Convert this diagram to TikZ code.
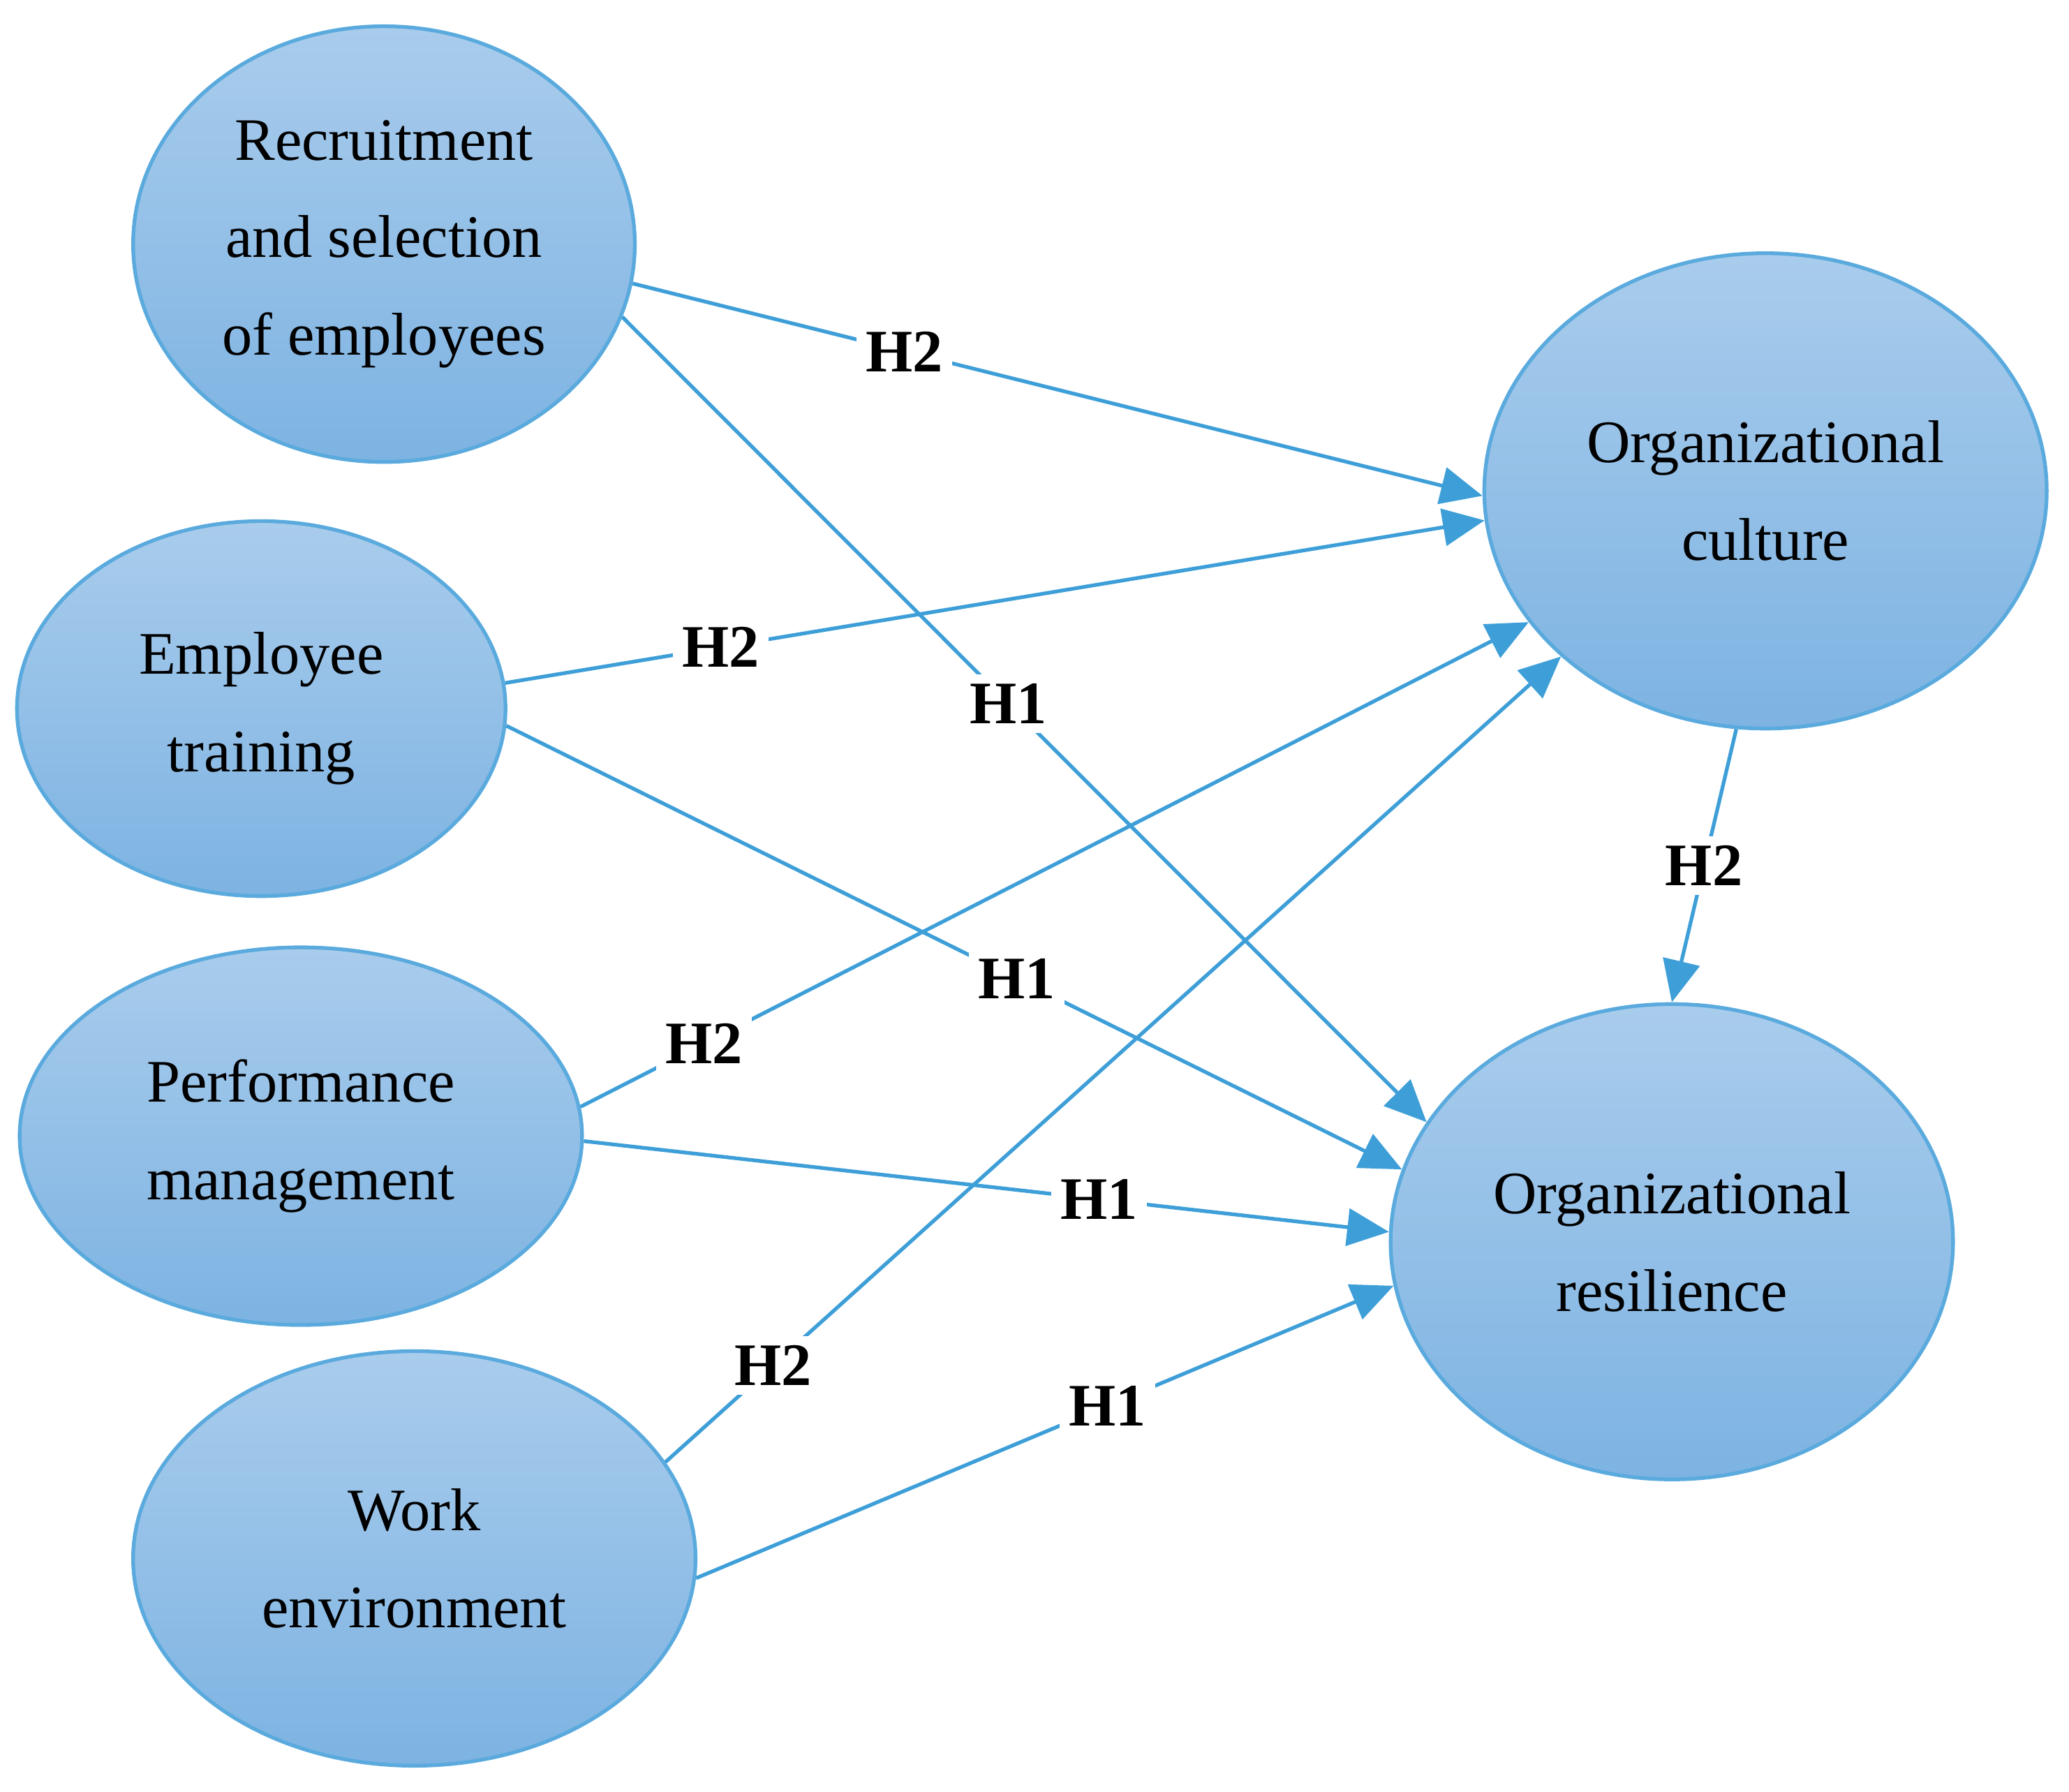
\documentclass[tikz,border=0pt]{standalone}
\usepackage{fontspec}
\setmainfont{Liberation Serif}
\usetikzlibrary{shapes.geometric,arrows.meta}
\definecolor{edgeblue}{HTML}{3E9FD8}
\definecolor{topb}{HTML}{A9CCEC}
\definecolor{botb}{HTML}{7DB3E2}
\definecolor{rimb}{HTML}{5AAADE}
\tikzset{
 ell/.style={ellipse, draw=rimb, line width=0.8pt, top color=topb, bottom color=botb, inner sep=0pt, align=center, font=\fontsize{13}{21}\selectfont},
 conn/.style={draw=edgeblue, line width=0.8pt, -{Triangle[length=9pt,width=8pt]}},
 hlab/.style={fill=white, inner sep=2pt, font=\fontsize{13}{15}\selectfont\bfseries}
}
\begin{document}
\begin{tikzpicture}[x=0.01cm,y=-0.01cm]
\useasboundingbox (0,0) rectangle (1568,1358);
\node[ell, minimum width=3.8cm, minimum height=3.3cm] (rec) at (291,185) {Recruitment\\and selection\\of employees};
\node[ell, minimum width=3.7cm, minimum height=2.84cm] (emp) at (198,537) {Employee\\training};
\node[ell, minimum width=4.26cm, minimum height=2.86cm] (perf) at (228,861) {Performance\\management};
\node[ell, minimum width=4.26cm, minimum height=3.14cm] (work) at (314,1181) {Work\\environment};
\node[ell, minimum width=4.26cm, minimum height=3.6cm] (cult) at (1338,372) {Organizational\\culture};
\node[ell, minimum width=4.26cm, minimum height=3.6cm] (res) at (1267,941) {Organizational\\resilience};
\draw[conn] (rec.-9) -- node[hlab,pos=0.32]{H2} (cult.181.6);
\draw[conn] (rec.-17) -- node[hlab,pos=0.48]{H1} (res.154.7);
\draw[conn] (emp.6.1) -- node[hlab,pos=0.22]{H2} (cult.186.5);
\draw[conn] (emp.-4.3) -- node[hlab,pos=0.57]{H1} (res.165.1);
\draw[conn] (perf.6.2) -- node[hlab,pos=0.13]{H2} (cult.209.6);
\draw[conn] (perf.-1.3) -- node[hlab,pos=0.64]{H1} (res.178.4);
\draw[conn] (work.21.7) -- node[hlab,pos=0.12]{H2} (cult.219.6);
\draw[conn] (work.-4.6) -- node[hlab,pos=0.59]{H1} (res.189.1);
\draw[conn] (cult.263.7) -- node[hlab,pos=0.5]{H2} (res.90);
\end{tikzpicture}
\end{document}
